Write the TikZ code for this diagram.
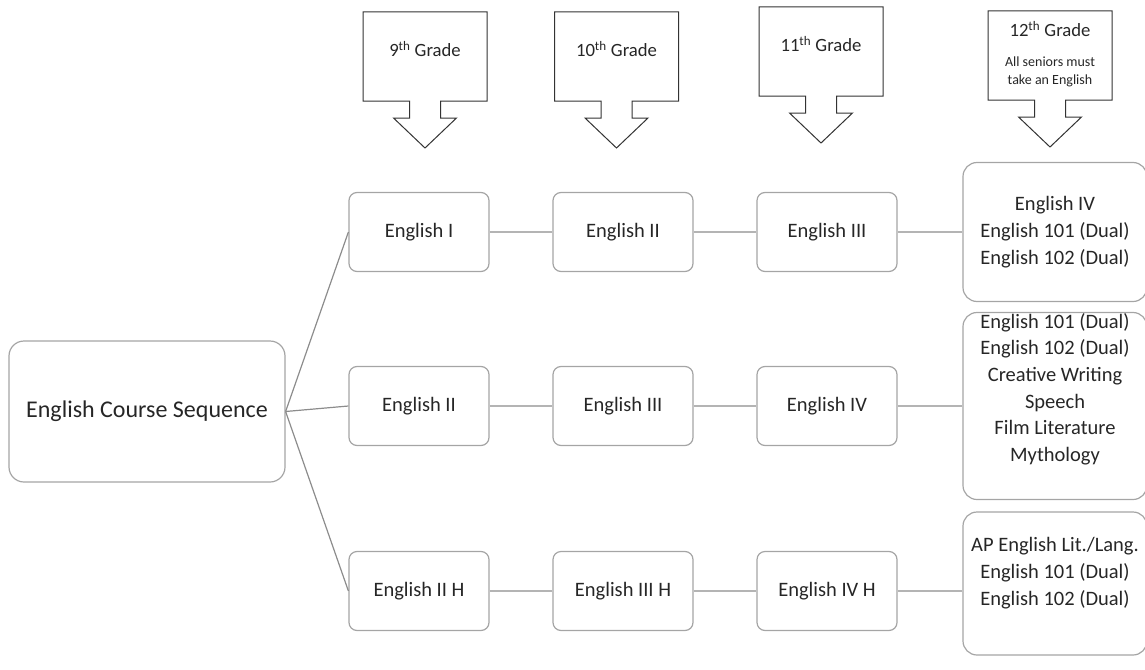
\documentclass[tikz,border=0pt]{standalone}
\usepackage{fontspec}
\setmainfont{Carlito}
\usepackage{tikz}

\definecolor{boxgray}{RGB}{165,165,165}
\definecolor{linegray}{RGB}{180,180,180}
\definecolor{rootgray}{RGB}{140,140,140}
\definecolor{txtgray}{RGB}{38,38,38}

\begin{document}
\begin{tikzpicture}[x=1pt,y=1pt,
    course/.style={draw=boxgray,line width=1.2pt,rounded corners=8pt,minimum width=140pt,minimum height=79pt,text=txtgray,font=\fontsize{20.5}{26.7}\selectfont},
    root/.style={course,rounded corners=15pt,minimum width=276pt,minimum height=141pt,font=\fontsize{24}{29}\selectfont},
    senior/.style={course,rounded corners=14pt,minimum width=184pt,inner sep=0pt,align=center},
    callout/.style={draw=black!80,line width=1pt,line join=miter},
    gradetext/.style={text=txtgray,font=\fontsize{18.7}{22}\selectfont},
    grow'=right,
    level 1/.style={level distance=272pt,sibling distance=179.5pt,
        edge from parent/.style={draw=rootgray,line width=1.2pt},
        edge from parent path={(\tikzparentnode.east) -- (\tikzchildnode.west)}},
    level 2/.style={level distance=204pt,
        edge from parent/.style={draw=linegray,line width=1.6pt},
        edge from parent path={(\tikzparentnode.east) -- (\tikzparentnode.east -| \tikzchildnode.west)}},
    level 3/.style={level distance=204pt},
    level 4/.style={level distance=228pt}]
    \useasboundingbox (0,0) rectangle (1145,-669);

    % grade arrows
    \foreach \c/\t in {425/12,616.5/12,821/7,1050/11}
        \draw[callout] (\c-62,-\t) -- ++(124,0) -- ++(0,-89) -- ++(-46.5,0) -- ++(0,-17) -- ++(16,0)
            -- ++(-31.5,-30) -- ++(-31.5,30) -- ++(16,0) -- ++(0,17) -- ++(-46.5,0) -- cycle;
    \foreach \c/\t/\g in {425/12/9,616.5/12/10,821/7/11}
        \node[gradetext] (g\g) at (\c,-\t-37) {\g\textsuperscript{th} Grade};
    \node[gradetext] (g12) at (1050,-29) {12\textsuperscript{th} Grade};
    \node[gradetext,font=\fontsize{14}{18}\selectfont,align=center] (note) at (1050,-72) {All seniors must\\take an English};

    % course tree
    \node[root] (seq) at (147,-411.5) {English Course Sequence}
        child {node[course] (a1) {English I}
            child {node[course] (a2) {English II}
                child {node[course] (a3) {English III}
                    child {node[senior,minimum height=139pt] (a4) {English IV\\English 101 (Dual)\\English 102 (Dual)}}}}}
        child[yshift=5.5pt] {node[course] (b1) {English II}
            child {node[course] (b2) {English III}
                child {node[course] (b3) {English IV}
                    child {node[senior,minimum height=187pt] (b4) {\raisebox{16.5pt}[\height][\depth]{\begin{tabular}{@{}c@{}}English 101 (Dual)\\English 102 (Dual)\\Creative Writing\\Speech\\Film Literature\\Mythology\end{tabular}}}}}}}
        child {node[course] (c1) {English II H}
            child {node[course] (c2) {English III H}
                child {node[course] (c3) {English IV H}
                    child {node[senior,minimum height=143pt,yshift=7.5pt] (c4) {\raisebox{10.5pt}[\height][\depth]{\begin{tabular}{@{}c@{}}AP English Lit./Lang.\\English 101 (Dual)\\English 102 (Dual)\end{tabular}}}}}}}
    ;
\end{tikzpicture}
\end{document}
